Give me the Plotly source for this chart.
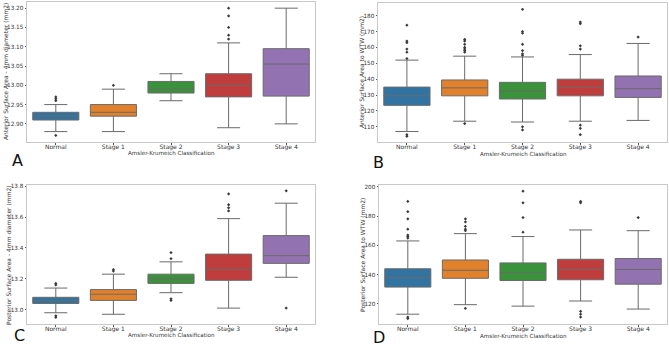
import plotly.graph_objects as go

categories = ["Normal", "Stage 1", "Stage 2", "Stage 3", "Stage 4"]
colors = ["#3274a1", "#e1812c", "#3a923a", "#c03d3e", "#9372b2"]

# Panel A: Anterior Surface Area - 4mm diameter
a_q1 = [12.91, 12.92, 12.98, 12.97, 12.972]
a_med = [12.92, 12.93, 12.99, 13.00, 13.055]
a_q3 = [12.93, 12.95, 13.01, 13.03, 13.095]
a_lo = [12.88, 12.88, 12.96, 12.89, 12.90]
a_hi = [12.95, 12.99, 13.03, 13.11, 13.20]
a_out = [[12.96, 12.965, 12.97, 12.87], [13.00], [], [13.12, 13.13, 13.15, 13.18, 13.20], []]

# Panel B: Anterior Surface Area to WTW
b_q1 = [123.5, 129.5, 127.5, 129.5, 128.5]
b_med = [129.5, 134.5, 132.5, 135.0, 134.0]
b_q3 = [135.0, 139.5, 138.0, 140.0, 142.0]
b_lo = [107.0, 113.5, 113.0, 113.5, 114.0]
b_hi = [152.0, 154.5, 154.0, 155.5, 162.5]
b_out = [[153, 157, 159, 163, 164, 174, 105, 104],
         [157, 158, 159, 160, 162, 164, 165, 112],
         [155, 156, 158, 162, 169, 170, 184, 110, 108],
         [159, 161, 175, 176, 111, 109, 105],
         [166.5]]

# Panel C: Posterior Surface Area - 4mm diameter
c_q1 = [13.04, 13.06, 13.17, 13.19, 13.30]
c_med = [13.06, 13.10, 13.20, 13.26, 13.35]
c_q3 = [13.08, 13.13, 13.23, 13.36, 13.48]
c_lo = [12.98, 12.97, 13.11, 13.01, 13.21]
c_hi = [13.14, 13.23, 13.31, 13.59, 13.69]
c_out = [[13.16, 13.17, 12.96, 12.95], [13.25, 13.26], [13.33, 13.37, 13.06, 13.07],
         [13.64, 13.66, 13.68, 13.75], [13.77, 13.01]]

# Panel D: Posterior Surface Area to WTW
d_q1 = [131.5, 137.5, 136.0, 136.5, 133.5]
d_med = [138.0, 143.0, 141.5, 143.5, 143.5]
d_q3 = [144.0, 150.0, 148.0, 150.5, 151.0]
d_lo = [113.0, 119.5, 118.5, 122.0, 116.5]
d_hi = [163.0, 168.0, 166.0, 170.5, 170.0]
d_out = [[165, 166, 167, 171, 178, 183, 190, 111, 110],
         [170, 171, 173, 176, 178, 117],
         [169, 179, 189, 197],
         [189, 190, 115, 113, 111],
         [179]]

y_titles = ["Anterior Surface Area - 4mm diameter (mm2)", "Anterior Surface Area to WTW (mm2)",
            "Posterior Surface Area - 4mm diameter (mm2)", "Posterior Surface Area to WTW (mm2)"]
x_title = "Amsler-Krumeich Classification"
letters = ["A", "B", "C", "D"]

panels = [
    (a_q1, a_med, a_q3, a_lo, a_hi, a_out),
    (b_q1, b_med, b_q3, b_lo, b_hi, b_out),
    (c_q1, c_med, c_q3, c_lo, c_hi, c_out),
    (d_q1, d_med, d_q3, d_lo, d_hi, d_out),
]

W, H = 669, 347
xdoms = [[27 / W, 315 / W], [378 / W, 667 / W], [27 / W, 315 / W], [379 / W, 667 / W]]
ydoms = [[1 - 142 / H, 1 - 2 / H], [1 - 142 / H, 1 - 3 / H],
         [1 - 324 / H, 1 - 185 / H], [1 - 324 / H, 1 - 185 / H]]
yranges = [[12.853, 13.216], [100.4, 188.0], [12.907, 13.808], [106.3, 201.2]]
ytickvals = [[12.90, 12.95, 13.00, 13.05, 13.10, 13.15, 13.20],
             [110, 120, 130, 140, 150, 160, 170, 180],
             [13.0, 13.2, 13.4, 13.6, 13.8],
             [120, 140, 160, 180, 200]]
ytickfmt = [".2f", "d", ".1f", "d"]
letter_pos = [(10, 160), (371, 162), (12, 335), (371, 337)]
xtitle_pos = [(171, 153), (523, 154), (171, 335), (523, 336)]
ytitle_pos = [(6, 72), (362, 72), (8, 255), (362, 255)]

fig = go.Figure()
layout = dict(width=W, height=H, margin=dict(l=0, r=0, t=0, b=0),
              paper_bgcolor="white", plot_bgcolor="white", showlegend=False,
              boxmode="overlay", font=dict(family="DejaVu Sans", size=6, color="#333"))
annotations = []

for i, (q1, med, q3, lo, hi, out) in enumerate(panels):
    xa = "x" if i == 0 else f"x{i+1}"
    ya = "y" if i == 0 else f"y{i+1}"
    for j, cat in enumerate(categories):
        fig.add_trace(go.Box(
            x=[cat], q1=[q1[j]], median=[med[j]], q3=[q3[j]],
            lowerfence=[lo[j]], upperfence=[hi[j]],
            fillcolor=colors[j], line=dict(color="#6a6a6a", width=1),
            width=0.8, whiskerwidth=0.5, xaxis=xa, yaxis=ya, hoverinfo="skip"))
        if out[j]:
            fig.add_trace(go.Scatter(
                x=[cat] * len(out[j]), y=out[j], mode="markers",
                marker=dict(symbol="diamond", size=2.5, color="#3a3a3a"),
                xaxis=xa, yaxis=ya, hoverinfo="skip"))
    key = "" if i == 0 else str(i + 1)
    layout["xaxis" + key] = dict(
        domain=xdoms[i], anchor=ya, type="category", automargin=False,
        categoryorder="array", categoryarray=categories, range=[-0.5, 4.5],
        showline=True, linecolor="#c8c8c8", linewidth=1, mirror=True,
        ticks="outside", ticklen=2, tickcolor="#555", showgrid=False,
        ticklabelstandoff=-3,
        tickfont=dict(size=6, color="#333"))
    layout["yaxis" + key] = dict(
        domain=ydoms[i], anchor=xa, range=yranges[i], automargin=False,
        tickvals=ytickvals[i], tickformat=ytickfmt[i],
        showline=True, linecolor="#c8c8c8", linewidth=1, mirror=True,
        ticks="outside", ticklen=1.5, tickcolor="#555", showgrid=False, zeroline=False,
        tickfont=dict(size=5.7, color="#333"))
    lx, ly = letter_pos[i]
    annotations.append(dict(text=letters[i], x=lx / W, y=1 - ly / H, xref="paper", yref="paper",
                            xanchor="left", yanchor="middle", showarrow=False,
                            font=dict(size=16, color="#111", family="DejaVu Sans")))
    tx, ty = xtitle_pos[i]
    annotations.append(dict(text=x_title, x=tx / W, y=1 - ty / H, xref="paper", yref="paper",
                            xanchor="center", yanchor="middle", showarrow=False,
                            font=dict(size=5.6, color="#333")))
    yx, yy = ytitle_pos[i]
    annotations.append(dict(text=y_titles[i], x=yx / W, y=1 - yy / H, xref="paper", yref="paper",
                            xanchor="center", yanchor="middle", showarrow=False, textangle=-90,
                            font=dict(size=6, color="#333")))

layout["annotations"] = annotations
fig.update_layout(**layout)
fig.write_html("out.html", config={"displayModeBar": False},
               post_script="document.body.style.margin='0';document.body.style.overflow='hidden';")
